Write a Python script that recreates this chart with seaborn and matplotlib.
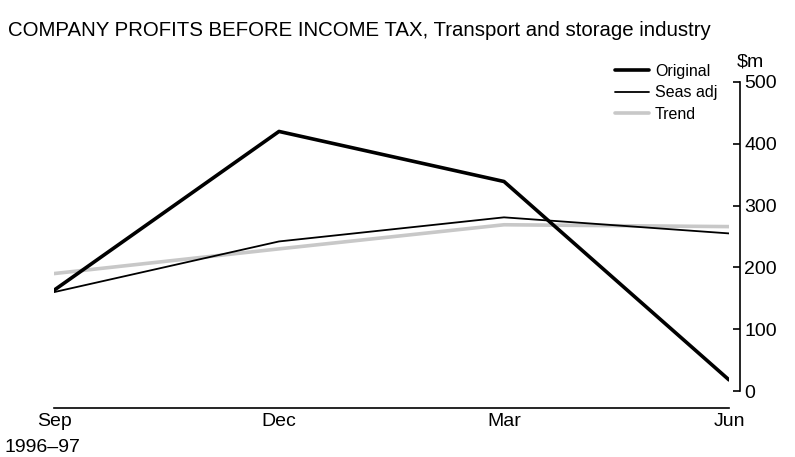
import seaborn as sns
import matplotlib.pyplot as plt
import pandas as pd

quarters = ["Sep", "Dec", "Mar", "Jun"]
original = [163, 420, 339, 18]
seas_adj = [160, 242, 281, 255]
trend = [190, 230, 269, 266]

df = pd.DataFrame({
    "pos": list(range(4)) * 3,
    "value": original + seas_adj + trend,
    "series": ["Original"] * 4 + ["Seas adj"] * 4 + ["Trend"] * 4,
})

sns.set_style("white")
plt.rcParams['font.family'] = ['Liberation Sans', 'DejaVu Sans']
plt.rcParams['text.color'] = 'black'
plt.rcParams['xtick.color'] = 'black'
plt.rcParams['ytick.color'] = 'black'

fig = plt.figure(figsize=(7.95, 4.57), dpi=100)
ax = fig.add_axes([54 / 795, 66 / 457, (729 - 54) / 795, (391 - 82) / 457])

sns.lineplot(data=df, x="pos", y="value", hue="series", size="series",
             palette={"Original": "black", "Seas adj": "black", "Trend": "#c8c8c8"},
             sizes={"Original": 2.6, "Seas adj": 1.3, "Trend": 2.6},
             hue_order=["Trend", "Seas adj", "Original"], legend=False, ax=ax)

ax.set_xlim(0, 3)
ax.set_ylim(0, 500)
ax.set_xticks(range(4))
ax.set_xticklabels(quarters)
ax.set_yticks(range(0, 501, 100))
ax.set_xlabel("")
ax.set_ylabel("")

ax.spines['top'].set_visible(False)
ax.spines['left'].set_visible(False)
ax.spines['bottom'].set_position(('outward', 12))
ax.spines['bottom'].set_bounds(0, 3)
ax.spines['right'].set_position(('outward', 8))
ax.spines['right'].set_bounds(0, 500)
for s in ['bottom', 'right']:
    ax.spines[s].set_color('black')
    ax.spines[s].set_linewidth(1.2)
ax.yaxis.tick_right()
ax.tick_params(axis='x', direction='in', length=5, width=1.2, labelsize=14, pad=4)
ax.tick_params(axis='y', direction='in', length=5, width=1.2, labelsize=14, pad=3)

fig.text(5 / 795, 10 / 457, "1996–97", fontsize=14, ha='left', va='center')
fig.text(737 / 795, 395 / 457, "$m", fontsize=14, ha='left', va='center')
fig.text(8 / 795, 427 / 457, "COMPANY PROFITS BEFORE INCOME TAX, Transport and storage industry",
         fontsize=14.7, ha='left', va='center')

handles = [plt.Line2D([], [], color='black', lw=2.6),
           plt.Line2D([], [], color='black', lw=1.3),
           plt.Line2D([], [], color='#c8c8c8', lw=2.6)]
fig.legend(handles, ["Original", "Seas adj", "Trend"], loc='upper left',
           bbox_to_anchor=(615 / 795, 1 - 64 / 457), frameon=False, fontsize=11.5,
           handlelength=2.1, handletextpad=0.4, labelspacing=0.4, borderpad=0,
           borderaxespad=0)

fig.savefig("out.png", dpi=100)
